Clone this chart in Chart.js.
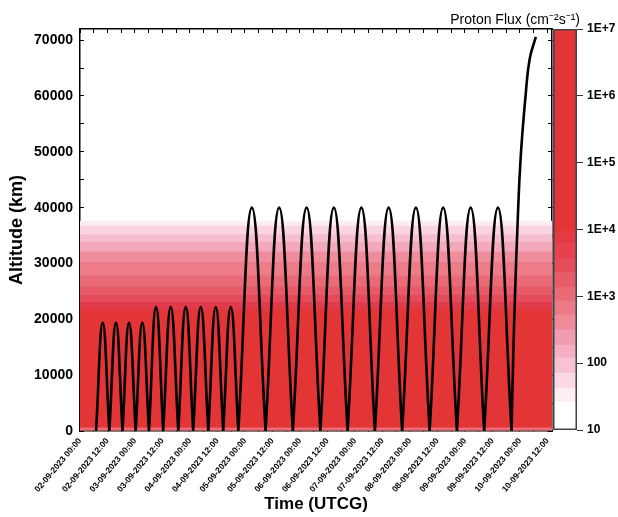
<!DOCTYPE html>
<html>
<head>
<meta charset="utf-8">
<script src="https://cdn.jsdelivr.net/npm/chart.js@4/dist/chart.umd.min.js"></script>
<style>
  body { margin: 0; background: #fff; }
  #wrap { position: relative; width: 618px; height: 517px; }
  #altitudeChart { position: absolute; left: 0; top: 0; }
  #fluxBar { position: absolute; left: 540px; top: 0; }
</style>
</head>
<body>
<div id="wrap">
  <canvas id="altitudeChart" width="618" height="517"></canvas>
  <canvas id="fluxBar" width="78" height="517"></canvas>
</div>
<script>
const fontFamily = "'Liberation Sans', Arial, sans-serif";

// time axis: hours after 02-09-2023 00:00
const xTickLabels = [
  "02-09-2023 00:00", "02-09-2023 12:00", "03-09-2023 00:00", "03-09-2023 12:00",
  "04-09-2023 00:00", "04-09-2023 12:00", "05-09-2023 00:00", "05-09-2023 12:00",
  "06-09-2023 00:00", "06-09-2023 12:00", "07-09-2023 00:00", "07-09-2023 12:00",
  "08-09-2023 00:00", "08-09-2023 12:00", "09-09-2023 00:00", "09-09-2023 12:00",
  "10-09-2023 00:00", "10-09-2023 12:00"
];
const yTickValues = [0, 5000, 10000, 15000, 20000, 25000, 30000, 35000, 40000,
  45000, 50000, 55000, 60000, 65000, 70000];
const yTickLabels = ["0", "", "10000", "", "20000", "", "30000", "", "40000",
  "", "50000", "", "60000", "", "70000"];

// orbit: perigee passes (altitude 0) and apogees
const troughHours = [7.0, 12.8, 18.55, 24.3, 30.1, 36.3, 42.9, 49.4, 56.0, 62.5, 69.1,
  81.0, 92.9, 104.9, 116.8, 128.7, 140.6, 152.6, 164.5, 176.4, 188.35];
const peakHours = [9.9, 15.7, 21.4, 27.2, 33.2, 39.6, 46.15, 52.7, 59.25, 65.8,
  75.0, 86.9, 98.9, 110.8, 122.8, 134.7, 146.6, 158.5, 170.5, 182.4];
const peakAltitudes = [19400, 19400, 19400, 19400, 22200, 22200, 22200, 22200, 22200, 22200,
  40000, 40000, 40000, 40000, 40000, 40000, 40000, 40000, 40000, 40000];
// final escape leg
const ascentHours = [188.35, 189.05, 189.9, 190.95, 192.3, 194.6, 196.3, 198.95];
const ascentAltitudes = [0, 12900, 24800, 36800, 48800, 60700, 66700, 70600];

// flux background bands (km)
const bandLowKm = [0, 550, 21700, 23000, 24300, 25800, 27800, 30200, 32100, 33800, 35200, 36700];
const bandHighKm = [550, 21700, 23000, 24300, 25800, 27800, 30200, 32100, 33800, 35200, 36700, 37600];
const bandColors = ["#ec6a75", "#e33436", "#e13a4b", "#e44a59", "#e75a68", "#ea6a77", "#ed7b88",
  "#f08d9c", "#f4a8bb", "#f7bdd0", "#fad4e2", "#fdedf3"];

// colour bar levels
const fluxLevelLow = [10, 26, 42, 71, 120, 186, 316, 525, 850, 1350, 2290, 3630, 6170, 9550];
const fluxLevelHigh = [26, 42, 71, 120, 186, 316, 525, 850, 1350, 2290, 3630, 6170, 9550, 1e7];
const fluxLevelColors = ["#ffffff", "#fdeef3", "#fbd8e5", "#f8c2d4", "#f5afc2", "#f29caf", "#ef8a99",
  "#ec7a88", "#ea6b78", "#e85c6a", "#e64d5b", "#e5414e", "#e43a44", "#e33436"];
const fluxTickValues = [10, 100, 1e3, 1e4, 1e5, 1e6, 1e7];
const fluxTickLabels = ["10", "100", "1E+3", "1E+4", "1E+5", "1E+6", "1E+7"];

Chart.defaults.font.family = fontFamily;
Chart.defaults.color = "#000";

const orbitPoints = [];
peakHours.forEach((hour, i) => {
  orbitPoints.push({ x: troughHours[i], y: 0 });
  orbitPoints.push({ x: hour, y: peakAltitudes[i] });
  orbitPoints.push({ x: troughHours[i + 1], y: 0 });
  orbitPoints.push({ x: troughHours[i + 1], y: null });
});
ascentHours.forEach((hour, i) => orbitPoints.push({ x: hour, y: ascentAltitudes[i] }));

const bandDatasets = bandLowKm.map((low, i) => ({
  type: "bar",
  xAxisID: "xBand",
  yAxisID: "y",
  data: [[low, bandHighKm[i]]],
  backgroundColor: bandColors[i],
  borderWidth: 0,
  grouped: false,
  barPercentage: 1,
  categoryPercentage: 1,
  order: 1
}));

const inwardGrid = { drawOnChartArea: false, tickLength: -4, color: "#000", lineWidth: 1 };
const frameBorder = { color: "#000", width: 1.5 };
const altitudeTicks = (axis) => {
  axis.ticks = yTickValues.map((value) => ({ value }));
};

new Chart(document.getElementById("altitudeChart"), {
  type: "line",
  data: {
    datasets: [
      {
        label: "Altitude",
        data: orbitPoints,
        borderColor: "#000",
        borderWidth: 2.6,
        pointRadius: 0,
        tension: 0.45,
        spanGaps: false,
        order: 0
      },
      ...bandDatasets
    ]
  },
  options: {
    responsive: false,
    animation: false,
    layout: { padding: { left: 6, right: 38, top: 11.6, bottom: 2 } },
    plugins: {
      legend: { display: false },
      tooltip: { enabled: false },
      title: {
        display: true,
        text: "Proton Flux (cm\u207B\u00B2s\u207B\u00B9)",
        align: "end",
        color: "#000",
        font: { size: 14, weight: "normal" },
        padding: { top: 0, bottom: 0 }
      }
    },
    scales: {
      x: {
        type: "linear",
        position: "bottom",
        min: 0,
        max: 206,
        grid: inwardGrid,
        border: frameBorder,
        ticks: {
          stepSize: 6,
          includeBounds: false,
          autoSkip: false,
          minRotation: 50,
          maxRotation: 50,
          padding: 9,
          font: { size: 8.5, weight: "bold" },
          callback: (value) => (value % 12 === 0 ? xTickLabels[value / 12] : "")
        },
        title: {
          display: true,
          text: "Time (UTCG)",
          font: { size: 17, weight: "bold" },
          padding: { top: 0, bottom: 0 }
        },
        afterFit: (axis) => { axis.height = 84; }
      },
      xTop: {
        type: "linear",
        position: "top",
        min: 0,
        max: 206,
        grid: inwardGrid,
        border: frameBorder,
        ticks: { display: false, stepSize: 6, includeBounds: false },
        afterFit: (axis) => { axis.height = 0.6; }
      },
      xBand: {
        type: "category",
        labels: ["band"],
        offset: true,
        display: false
      },
      y: {
        type: "linear",
        position: "left",
        min: 0,
        max: 72000,
        grid: inwardGrid,
        border: frameBorder,
        afterBuildTicks: altitudeTicks,
        ticks: {
          autoSkip: false,
          padding: 11,
          font: { size: 14, weight: "bold" },
          callback: (value, index) => yTickLabels[index]
        },
        title: {
          display: true,
          text: "Altitude (km)",
          font: { size: 18, weight: "bold" },
          padding: { top: 0, bottom: 0 }
        },
        afterFit: (axis) => { axis.width = 74; }
      },
      yRight: {
        type: "linear",
        position: "right",
        min: 0,
        max: 72000,
        grid: inwardGrid,
        border: frameBorder,
        afterBuildTicks: altitudeTicks,
        ticks: { display: false },
        afterFit: (axis) => { axis.width = 28; }
      }
    }
  }
});

const levelDatasets = fluxLevelLow.map((low, i) => ({
  data: [[low, fluxLevelHigh[i]]],
  backgroundColor: fluxLevelColors[i],
  borderWidth: 0,
  grouped: false,
  barPercentage: 1,
  categoryPercentage: 1,
  order: 1
}));

new Chart(document.getElementById("fluxBar"), {
  type: "bar",
  data: {
    labels: ["flux"],
    datasets: [
      ...levelDatasets,
      {
        data: [[10, 1e7]],
        backgroundColor: "rgba(0,0,0,0)",
        borderColor: "#444",
        borderWidth: 1.2,
        borderSkipped: false,
        grouped: false,
        barPercentage: 1,
        categoryPercentage: 1,
        order: 0
      }
    ]
  },
  options: {
    responsive: false,
    animation: false,
    layout: { padding: { left: 13, right: 0, top: 29, bottom: 87 } },
    plugins: { legend: { display: false }, tooltip: { enabled: false } },
    scales: {
      x: { display: false, offset: true },
      y: {
        type: "logarithmic",
        position: "right",
        min: 10,
        max: 1e7,
        grid: { drawOnChartArea: false, tickLength: 6, color: "#333", lineWidth: 1 },
        border: { display: false },
        ticks: {
          padding: 4,
          font: { size: 12, weight: "bold" },
          callback: (value) => fluxTickLabels[fluxTickValues.indexOf(value)] ?? ""
        },
        afterBuildTicks: (axis) => {
          axis.ticks = fluxTickValues.map((value) => ({ value }));
        },
        afterFit: (axis) => { axis.width = 41; }
      }
    }
  }
});
</script>
</body>
</html>
